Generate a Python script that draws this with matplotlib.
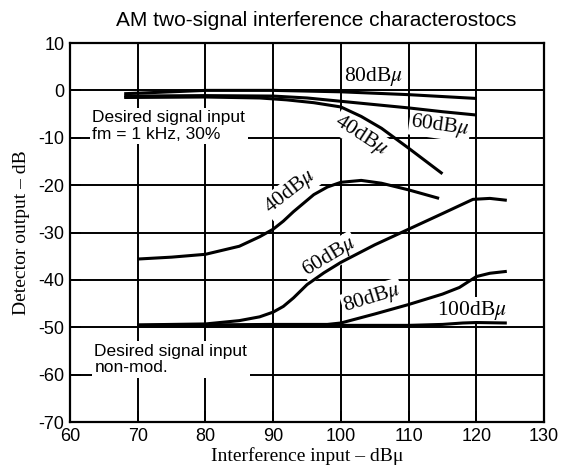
import matplotlib
matplotlib.use("Agg")
import matplotlib.pyplot as plt

plt.rcParams['axes.unicode_minus'] = False
plt.rcParams['mathtext.fontset'] = 'stix'

# curves (x: interference input dBu, y: detector output dB)
# desired signal modulated (fm = 1 kHz, 30%)
mod80_x = [68, 75, 80, 90, 100, 110, 120]
mod80_y = [-0.7, -0.3, 0.0, 0.0, -0.3, -0.9, -1.7]
mod60_x = [68, 80, 90, 95, 100, 105, 110, 115, 120]
mod60_y = [-1.2, -1.1, -1.2, -1.6, -2.3, -3.0, -3.7, -4.5, -5.2]
mod40_x = [68, 80, 88, 92, 96, 100, 103, 106, 110, 115]
mod40_y = [-1.5, -1.4, -1.6, -2.0, -2.6, -3.5, -5.5, -8.0, -12.2, -17.6]

# desired signal non-modulated
nm40_x = [70, 75, 80, 85, 88, 90, 91.5, 93, 94.5, 96, 98, 100, 103, 106, 110, 114.5]
nm40_y = [-35.6, -35.2, -34.6, -32.9, -30.9, -29.3, -27.6, -25.6, -23.8, -22.0, -20.4, -19.4, -19.0, -19.6, -21.0, -22.8]
nm60_x = [70, 75, 80, 85, 88, 90, 91.5, 93, 95, 97.5, 100, 105, 110, 115, 119.5, 122, 124.5]
nm60_y = [-49.5, -49.4, -49.3, -48.6, -47.8, -46.8, -45.6, -43.8, -41.0, -38.5, -36.3, -32.6, -29.3, -26.0, -23.0, -22.8, -23.2]
nm80_x = [70, 80, 90, 95, 98, 100, 105, 110, 115, 117.5, 120, 122, 124.5]
nm80_y = [-49.6, -49.5, -49.4, -49.4, -49.4, -49.1, -47.2, -45.2, -43.0, -41.6, -39.3, -38.6, -38.2]
nm100_x = [70, 80, 90, 100, 110, 115, 118, 120, 124.5]
nm100_y = [-49.8, -49.7, -49.7, -49.6, -49.6, -49.4, -49.1, -49.0, -49.1]

xticks = [60, 70, 80, 90, 100, 110, 120, 130]
yticks = [10, 0, -10, -20, -30, -40, -50, -60, -70]

sans = 'Liberation Sans'
serif = 'Liberation Serif'

fig = plt.figure(figsize=(5.61, 4.66), dpi=100)
ax = fig.add_axes([0.1248, 0.0944, 0.845, 0.8133])

for xs, ys in [(mod80_x, mod80_y), (mod60_x, mod60_y), (mod40_x, mod40_y),
               (nm40_x, nm40_y), (nm60_x, nm60_y), (nm80_x, nm80_y), (nm100_x, nm100_y)]:
    ax.plot(xs, ys, color='black', lw=2.2, zorder=3, solid_capstyle='butt',
            solid_joinstyle='round')

ax.set_xlim(60, 130)
ax.set_ylim(-70, 10)
ax.set_xticks(xticks)
ax.set_yticks(yticks)
ax.set_axisbelow(True)
ax.grid(True, color='black', lw=1.4)
ax.tick_params(direction='in', length=8, width=1.4, labelsize=13, pad=4)
for lab in ax.get_xticklabels() + ax.get_yticklabels():
    lab.set_fontfamily(sans)
for sp in ax.spines.values():
    sp.set_linewidth(1.6)

box = dict(facecolor='white', edgecolor='none', pad=1.0)
lbl = dict(fontsize=15.5, family=serif, color='black', zorder=2, bbox=box)
ax.text(100.4, 3.0, r'80dB$\mu$', ha='left', va='center', **lbl)
ax.text(114.6, -7.5, r'60dB$\mu$', ha='center', va='center', rotation=-8, **lbl)
ax.text(103.0, -9.6, r'40dB$\mu$', ha='center', va='center', rotation=-33, **lbl)
ax.text(92.5, -21.5, r'40dB$\mu$', ha='center', va='center', rotation=38, **lbl)
ax.text(98.3, -35.2, r'60dB$\mu$', ha='center', va='center', rotation=31, **lbl)
ax.text(104.6, -43.9, r'80dB$\mu$', ha='center', va='center', rotation=17, **lbl)
ax.text(119.3, -46.4, r'100dB$\mu$', ha='center', va='center', **lbl)

note = dict(fontsize=12.5, family=sans, color='black', zorder=2, linespacing=1.1,
            bbox=dict(facecolor='white', edgecolor='none', pad=2.0))
ax.text(63.3, -7.5, 'Desired signal input\nfm = 1 kHz, 30%', ha='left', va='center', **note)
ax.text(63.6, -56.8, 'Desired signal input\nnon-mod.', ha='left', va='center', **note)

ax.set_xlabel('Interference input – dBμ', family=serif, fontsize=14, labelpad=2)
ax.set_ylabel('Detector output – dB', family=serif, fontsize=14, labelpad=6)
fig.text(0.564, 0.955, 'AM two-signal interference characterostocs', ha='center', va='center',
         family=sans, fontsize=15)

fig.savefig('out.png', dpi=100)
